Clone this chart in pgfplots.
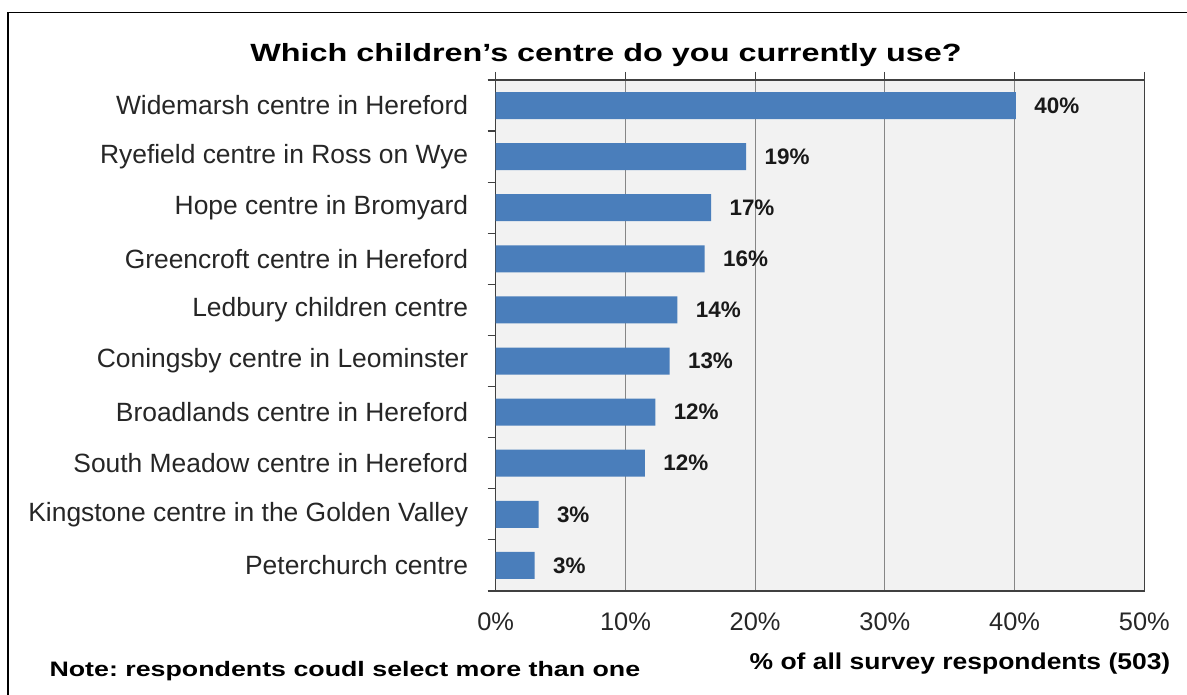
\documentclass[border=0pt]{standalone}
\usepackage{fontspec}
\setmainfont{Liberation Sans}
\usepackage{graphicx}
\usepackage{pgfplots}
\usepackage{pgfplotstable}
\pgfplotsset{compat=1.18}
\frenchspacing
\definecolor{barblue}{HTML}{4A7EBB}
\definecolor{bggray}{HTML}{F2F2F2}
\definecolor{gridgray}{HTML}{868686}
\definecolor{axisdark}{HTML}{404040}
\pgfplotstableread{
y x label
10 40.1 40
9 19.3 19
8 16.6 17
7 16.1 16
6 14.0 14
5 13.4 13
4 12.3 12
3 11.5 12
2 3.3 3
1 3.0 3
}\data
\begin{document}
\begin{tikzpicture}[x=1bp,y=1bp]
\path[use as bounding box, fill=white] (0,0) rectangle (1187,695);
\draw[line width=1.6bp, black] (8,-10) -- (8,682.5) -- (1200,682.5);
\begin{axis}[
  at={(495.7bp,104bp)}, anchor=south west,
  scale only axis, width=648.6bp, height=511bp,
  xmin=0, xmax=50, ymin=0.5, ymax=10.5,
  axis background/.style={fill=bggray},
  axis line style={axisdark, line width=1.3bp},
  xtick={0,10,20,30,40,50},
  xticklabels={0\%,10\%,20\%,30\%,40\%,50\%},
  xtick pos=right, xticklabel pos=left,
  tick align=outside,
  major tick length=8bp, minor tick length=8bp,
  xtick style={axisdark, line width=1.2bp},
  xmajorgrids, grid style={gridgray, line width=1bp},
  ytick={1,...,10},
  yticklabels={Peterchurch centre, Kingstone centre in the Golden Valley, South Meadow centre in Hereford, Broadlands centre in Hereford, Coningsby centre in Leominster, Ledbury children centre, Greencroft centre in Hereford, Hope centre in Bromyard, Ryefield centre in Ross on Wye, Widemarsh centre in Hereford},
  major y tick style={draw=none},
  minor ytick={0.5,1.5,...,10.5},
  minor y tick style={axisdark, line width=1.2bp},
  ytick pos=left,
  yticklabel style={font=\fontsize{26.5}{31}\selectfont, text=black!85, xshift=-16bp},
  xticklabel style={font=\fontsize{25.5}{30}\selectfont, text=black!85, yshift=-10bp},
]
\addplot[xbar, fill=barblue, draw=none, bar width=27bp,
  point meta=explicit symbolic,
  nodes near coords={\pgfplotspointmeta\%},
  nodes near coords style={anchor=west, xshift=15bp, font=\bfseries\fontsize{22.5}{27}\selectfont, text=black!90}]
  table[x=x, y=y, meta=label]{\data};
\draw[axisdark, line width=2.4bp] (rel axis cs:0,0) -- (rel axis cs:1,0);
\end{axis}
\node[font=\bfseries\fontsize{25}{30}\selectfont] at (606,640) {\scalebox{1.3}[1]{Which children’s centre do you currently use?}};
\node[anchor=west, font=\bfseries\fontsize{21}{26}\selectfont] at (46,24) {\scalebox{1.28}[1]{Note: respondents coudl select more than one}};
\node[font=\bfseries\fontsize{23}{28}\selectfont] at (960,31) {\scalebox{1.155}[1]{\% of all survey respondents (503)}};
\end{tikzpicture}
\end{document}
